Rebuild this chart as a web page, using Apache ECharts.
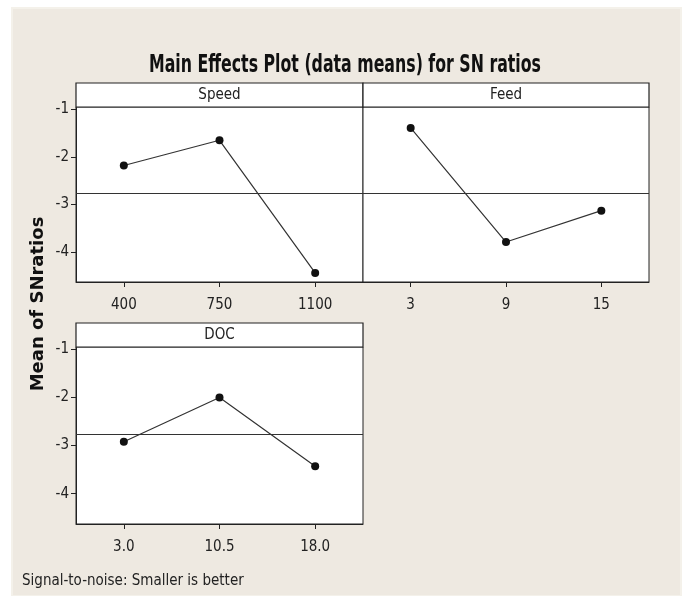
<!DOCTYPE html>
<html><head><meta charset="utf-8">
<script src="https://cdn.jsdelivr.net/npm/echarts@6/dist/echarts.min.js"></script>
<style>html,body{margin:0;padding:0;background:#fff}#c{width:689px;height:596px}</style>
</head><body><div id="c"></div>
<script>
// ---- data ----
const speedLevels = ['400', '750', '1100'];
const speedMeans = [-2.18, -1.65, -4.44];
const feedLevels = ['3', '9', '15'];
const feedMeans = [-1.39, -3.79, -3.13];
const docLevels = ['3.0', '10.5', '18.0'];
const docMeans = [-2.92, -2.00, -3.43];
const yTicks = [-1, -2, -3, -4];
const panelNames = ['Speed', 'Feed', 'DOC'];
const titleText = 'Main Effects Plot (data means) for SN ratios';
const footText = 'Signal-to-noise: Smaller is better';
const yName = 'Mean of SNratios';

const mean = a => a.reduce((s, v) => s + v, 0) / a.length;
const overallMean = mean(speedMeans.concat(feedMeans, docMeans));

const FONT = '"DejaVu Sans Condensed", "Liberation Sans", sans-serif';
const panels = [
  { left: 76, top: 107, width: 287, height: 175, cats: speedLevels, vals: speedMeans, showY: true },
  { left: 363, top: 107, width: 286, height: 175, cats: feedLevels, vals: feedMeans, showY: false },
  { left: 76, top: 347, width: 287, height: 177, cats: docLevels, vals: docMeans, showY: true }
];
const STRIP = 24;
const YMIN = -4.63, YMAX = -0.95;

// measure title to fit its width
const titleFont = 'bold 25px "DejaVu Sans Condensed", sans-serif';
const ctx = document.createElement('canvas').getContext('2d');
ctx.font = titleFont;
const titleScaleX = 392 / ctx.measureText(titleText).width;

const grids = [], xAxes = [], yAxes = [], series = [], graphics = [];
panels.forEach((p, i) => {
  grids.push({ left: p.left, top: p.top, width: p.width, height: p.height, show: true,
    backgroundColor: '#fff', borderColor: '#222', borderWidth: 1 });
  xAxes.push({ type: 'category', gridIndex: i, data: p.cats, boundaryGap: true,
    axisLine: { show: true, lineStyle: { color: '#222' } },
    axisTick: { show: true, alignWithLabel: true, length: 5, lineStyle: { color: '#222' } },
    axisLabel: { color: '#222', fontSize: 15, fontFamily: FONT, margin: 16 },
    splitLine: { show: false } });
  yAxes.push({ type: 'value', gridIndex: i, min: YMIN, max: YMAX,
    axisLine: { show: p.showY, lineStyle: { color: '#222' } },
    axisTick: { show: p.showY, length: 5, customValues: yTicks, lineStyle: { color: '#222' } },
    axisLabel: { show: p.showY, customValues: yTicks, color: '#222', fontSize: 15, fontFamily: FONT, margin: 7 },
    splitLine: { show: false } });
  series.push({ type: 'line', xAxisIndex: i, yAxisIndex: i, data: p.vals,
    symbol: 'circle', symbolSize: 8, itemStyle: { color: '#111' },
    lineStyle: { color: '#333', width: 1.2 }, animation: false,
    markLine: { silent: true, symbol: ['none', 'none'], label: { show: false },
      lineStyle: { color: '#333', width: 1, type: 'solid' },
      data: [{ yAxis: overallMean }] } });
  graphics.push({ type: 'rect', shape: { x: p.left, y: p.top - STRIP, width: p.width, height: STRIP },
    style: { fill: '#fff', stroke: '#222', lineWidth: 1.2 }, z: 10 });
  graphics.push({ type: 'text', x: p.left + p.width / 2, y: p.top - STRIP / 2,
    style: { text: panelNames[i], fill: '#222', font: '15px ' + FONT, textAlign: 'center', textVerticalAlign: 'middle' }, z: 11 });
});

// background frame
graphics.unshift({ type: 'rect', shape: { x: 12, y: 8, width: 669, height: 588 },
  style: { fill: '#EEE9E1', stroke: '#F4F1EA', lineWidth: 2 }, z: -10 });

graphics.push(
  { type: 'text', x: 345, y: 65, scaleX: titleScaleX, scaleY: 1,
    style: { text: titleText, fill: '#111', font: titleFont, textAlign: 'center', textVerticalAlign: 'middle' } },
  { type: 'text', x: 22, y: 581,
    style: { text: footText, fill: '#222', font: '15px ' + FONT, textAlign: 'left', textVerticalAlign: 'middle' } },
  { type: 'text', x: 38, y: 304, rotation: Math.PI / 2,
    style: { text: yName, fill: '#111', font: 'bold 18px "DejaVu Sans", sans-serif',
      textAlign: 'center', textVerticalAlign: 'middle' } }
);

const chart = echarts.init(document.getElementById('c'));
chart.setOption({
  backgroundColor: '#fff',
  animation: false,
  graphic: graphics,
  grid: grids, xAxis: xAxes, yAxis: yAxes, series: series
});
</script></body></html>
